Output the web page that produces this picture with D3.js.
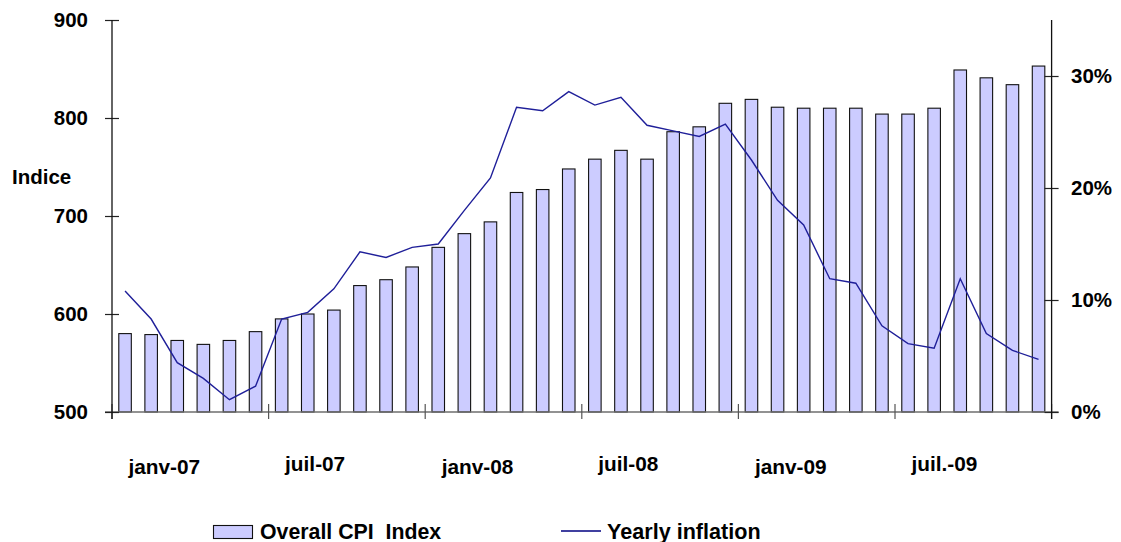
<!DOCTYPE html>
<html>
<head>
<meta charset="utf-8">
<script src="https://cdn.jsdelivr.net/npm/d3@7"></script>
<style>
  body { margin: 0; background: #fff; }
  text { font-family: "Liberation Sans", Arial, sans-serif; font-weight: bold; fill: #000; }
</style>
</head>
<body>
<div id="chart"></div>
<script>
// monthly categories, janv-07 .. déc-09
const months = d3.range(36).map((i) => {
  const names = ["janv", "févr", "mars", "avr", "mai", "juin", "juil", "août", "sept", "oct", "nov", "déc"];
  return names[i % 12] + "-0" + (7 + Math.floor(i / 12));
});

// Overall CPI index (left axis)
const cpiIndex = [
  580, 579, 573, 569, 573, 582, 595, 600, 604, 629, 635, 648,
  668, 682, 694, 724, 727, 748, 758, 767, 758, 786, 791, 815,
  819, 811, 810, 810, 810, 804, 804, 810, 849, 841, 834, 853
];

// Yearly inflation (right axis, %)
const inflation = [
  10.8, 8.3, 4.4, 3.0, 1.1, 2.3, 8.3, 8.9, 11.0, 14.3, 13.8, 14.7,
  15.0, 18.0, 20.9, 27.2, 26.9, 28.6, 27.4, 28.1, 25.6, 25.1, 24.6, 25.7,
  22.5, 18.9, 16.7, 11.9, 11.5, 7.7, 6.1, 5.7, 11.9, 7.0, 5.5, 4.7
];

const leftTicks = [500, 600, 700, 800, 900];
const rightTicks = [0, 0.1, 0.2, 0.3];
const xTickLabels = ["janv-07", "juil-07", "janv-08", "juil-08", "janv-09", "juil.-09"];

const width = 1121, height = 542;
const plot = { left: 112, right: 1051.6, top: 20, bottom: 412 };

const svg = d3.select("#chart").append("svg")
  .attr("width", width)
  .attr("height", height);

// scales
const x = d3.scaleBand()
  .domain(months)
  .range([plot.left, plot.right])
  .paddingInner(0.52)
  .paddingOuter(0.26);
const yLeft = d3.scaleLinear().domain([500, 900]).range([plot.bottom, plot.top]);
const yRight = d3.scaleLinear().domain([0, 0.35]).range([plot.bottom, plot.top]);

// bars
svg.append("g")
  .selectAll("rect")
  .data(cpiIndex)
  .join("rect")
  .attr("x", (d, i) => x(months[i]))
  .attr("y", (d) => yLeft(d))
  .attr("width", x.bandwidth())
  .attr("height", (d) => yLeft(500) - yLeft(d))
  .attr("fill", "#ccccff")
  .attr("stroke", "#111")
  .attr("stroke-width", 1.1);

// x baseline
svg.append("line")
  .attr("x1", plot.left - 7).attr("x2", plot.right + 7)
  .attr("y1", plot.bottom).attr("y2", plot.bottom)
  .attr("stroke", "#6e6e6e").attr("stroke-width", 1.4);

// x ticks every 6 months
const tickIdx = d3.range(0, 37, 6);
const xTickPos = (i) => plot.left + i * x.step();
svg.append("g")
  .selectAll("line")
  .data(tickIdx)
  .join("line")
  .attr("x1", (i) => xTickPos(i)).attr("x2", (i) => xTickPos(i))
  .attr("y1", plot.bottom - 8).attr("y2", plot.bottom + 7)
  .attr("stroke", "#555").attr("stroke-width", 1.2);

svg.append("g")
  .selectAll("text")
  .data(xTickLabels)
  .join("text")
  .attr("x", (d, k) => xTickPos(k * 6) + 16.5)
  .attr("y", (d) => d.startsWith("janv") ? 474 : 470.5)
  .style("font-size", "20.8px")
  .text((d) => d);

// left axis
const leftAxis = d3.axisLeft(yLeft).tickValues(leftTicks).tickSize(7).tickPadding(17);
const gL = svg.append("g").attr("transform", `translate(${plot.left},0)`).call(leftAxis);
gL.select(".domain").remove();
gL.selectAll(".tick line").attr("x2", -7).attr("x1", 7).attr("stroke", "#222").attr("stroke-width", 1.2);
gL.selectAll(".tick text").style("font-size", "20.5px").attr("font-family", null).attr("font-size", null);
svg.append("line")
  .attr("x1", plot.left).attr("x2", plot.left)
  .attr("y1", plot.top).attr("y2", plot.bottom + 7)
  .attr("stroke", "#111").attr("stroke-width", 1.3);

// right axis
const rightAxis = d3.axisRight(yRight).tickValues(rightTicks).tickSize(7).tickPadding(12.4)
  .tickFormat(d3.format(".0%"));
const gR = svg.append("g").attr("transform", `translate(${plot.right},0)`).call(rightAxis);
gR.select(".domain").remove();
gR.selectAll(".tick line").attr("x1", -7).attr("x2", 7).attr("stroke", "#222").attr("stroke-width", 1.2);
gR.selectAll(".tick text").style("font-size", "20.5px").attr("font-family", null).attr("font-size", null);
svg.append("line")
  .attr("x1", plot.right).attr("x2", plot.right)
  .attr("y1", plot.top).attr("y2", plot.bottom + 7)
  .attr("stroke", "#111").attr("stroke-width", 1.3);

// inflation line
const line = d3.line()
  .x((d, i) => x(months[i]) + x.bandwidth() / 2)
  .y((d) => yRight(d / 100));
svg.append("path")
  .datum(inflation)
  .attr("d", line)
  .attr("fill", "none")
  .attr("stroke", "#1f1f99")
  .attr("stroke-width", 1.4);

// y axis title
svg.append("text")
  .attr("x", 12).attr("y", 183.5)
  .style("font-size", "20.5px")
  .text("Indice");

// legend
const legend = svg.append("g");
legend.append("rect")
  .attr("x", 213.5).attr("y", 525.5).attr("width", 39).attr("height", 13)
  .attr("fill", "#ccccff").attr("stroke", "#111").attr("stroke-width", 1.1);
legend.append("text")
  .attr("x", 260).attr("y", 538.5)
  .style("font-size", "21.3px").style("white-space", "pre")
  .text("Overall CPI  Index");
legend.append("line")
  .attr("x1", 561).attr("x2", 601).attr("y1", 531).attr("y2", 531)
  .attr("stroke", "#000080").attr("stroke-width", 1.4);
legend.append("text")
  .attr("x", 607).attr("y", 538.5)
  .style("font-size", "21.6px")
  .text("Yearly inflation");
</script>
</body>
</html>
